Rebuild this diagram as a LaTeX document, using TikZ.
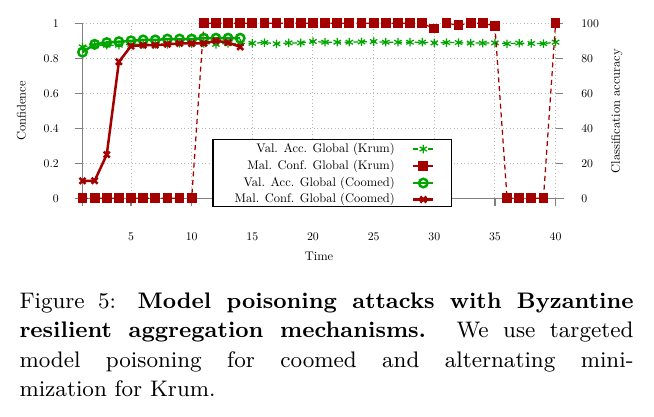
\documentclass[tikz,border=0pt]{standalone}
\usepackage{xcolor}
\usepackage{tikz}
\usetikzlibrary{plotmarks,positioning}

\definecolor{accgreen}{RGB}{0,165,0}
\definecolor{confred}{RGB}{165,0,0}

\begin{document}
\begin{tikzpicture}[x=0.4pt,y=-0.4pt,
  grid line/.style={gray!55,densely dotted,line width=0.4pt},
  axis line/.style={gray,line width=0.5pt},
  tick label/.style={font=\fontsize{10}{12}\selectfont,scale=0.47,inner sep=0pt},
  axis label/.style={font=\fontsize{10}{12}\selectfont,scale=0.5,inner sep=0pt},
  legend text/.style={font=\fontsize{10}{12}\selectfont,scale=0.5,inner sep=0pt,anchor=east,
    text height=1.5ex,text depth=.25ex},
  krum line/.style={line width=0.5pt,dash pattern=on 2pt off 1.5pt,mark options={solid},mark size=1.7pt},
  coomed line/.style={line width=1pt,mark size=1.7pt},
  legend dash/.style={dash pattern=on 2pt off 4pt},
  acc/.style={color=accgreen},
  conf/.style={color=confred}]

\useasboundingbox (0,0) rectangle (654,416);

% plot area: time 1..40, confidence 0..1 (accuracy 0..100 on the right)
\begin{scope}[shift={(70.37,198.3)},x=4.852pt,y=70pt]
  \foreach \v in {0.2,0.4,0.6,0.8,1}
    \draw[grid line] (1,\v) -- (40,\v);
  \foreach \t in {5,10,...,40}
    \draw[grid line] (\t,0) -- (\t,1);

  \draw[axis line] (1,1) -- ([yshift=-3pt]1,0);
  \draw[axis line] ([xshift=-3.2pt]1,0) -- ([xshift=3.2pt]40,0);
  \foreach \t in {5,10,...,40}{
    \draw[axis line] (\t,0) -- ([yshift=-3.2pt]\t,0);
    \node[tick label] (xt-\t) at ([yshift=-15.4pt]\t,0) {\t};
  }
  \foreach \v/\lab [count=\i] in {0/0,0.2/20,0.4/40,0.6/60,0.8/80,1/100}{
    \draw[axis line] ([xshift=-3.2pt]1,\v) -- (1,\v);
    \draw[axis line] (40,\v) -- ([xshift=3pt]40,\v);
    \node[tick label,anchor=east] (yl-\i) at ([xshift=-9.4pt]1,\v) {\v};
    \node[tick label,anchor=west] (yr-\i) at ([xshift=10.2pt]40,\v) {\lab};
  }
  \node[axis label] (time) at ([yshift=-23.4pt]20.5,0) {Time};

  % Krum
  \draw[krum line,acc] plot[mark=asterisk] coordinates {
    (1,.865) (2,.875) (3,.875) (4,.875) (5,.88) (6,.88) (7,.88) (8,.88) (9,.885) (10,.885)
    (11,.885) (12,.88) (13,.885) (14,.885) (15,.886) (16,.89) (17,.883) (18,.888) (19,.888) (20,.896)
    (21,.892) (22,.892) (23,.892) (24,.894) (25,.896) (26,.892) (27,.892) (28,.892) (29,.892) (30,.888)
    (31,.89) (32,.89) (33,.887) (34,.887) (35,.888) (36,.883) (37,.887) (38,.885) (39,.884) (40,.892)};
  \draw[krum line,conf] plot[mark=square*] coordinates {
    (1,0) (2,0) (3,0) (4,0) (5,0) (6,0) (7,0) (8,0) (9,0) (10,0)
    (11,1) (12,1) (13,1) (14,1) (15,1) (16,1) (17,1) (18,1) (19,1) (20,1)
    (21,1) (22,1) (23,1) (24,1) (25,1) (26,1) (27,1) (28,1) (29,1) (30,.97)
    (31,1) (32,.99) (33,1) (34,1) (35,.985) (36,0) (37,0) (38,0) (39,0) (40,1)};

  % Coomed
  \draw[coomed line,acc] plot[mark=o] coordinates {
    (1,.835) (2,.88) (3,.89) (4,.895) (5,.9) (6,.905) (7,.905) (8,.91) (9,.91) (10,.91)
    (11,.915) (12,.915) (13,.915) (14,.915)};
  \draw[coomed line,conf] plot[mark=x] coordinates {
    (1,.1) (2,.1) (3,.25) (4,.78) (5,.87) (6,.875) (7,.875) (8,.88) (9,.885) (10,.885)
    (11,.885) (12,.9) (13,.89) (14,.865)};
\end{scope}

\node[axis label,rotate=90] (conf-label) at (21.3,111) {Confidence};
\node[axis label,rotate=90] (acc-label) at (616.8,111) {Classification accuracy};

% legend
\node (legend) [draw,fill=white,line width=0.5pt,minimum width=95.4pt,minimum height=26.7pt,
  inner sep=0pt,anchor=north west] at (212.3,139) {};
\node[legend text] (leg-1) at (395,149) {Val. Acc. Global (Krum)};
\node[legend text] (leg-2) at (395,166) {Mal. Conf. Global (Krum)};
\node[legend text] (leg-3) at (395,183) {Val. Acc. Global (Coomed)};
\node[legend text] (leg-4) at (395,199.5) {Mal. Conf. Global (Coomed)};
\draw[krum line,legend dash,acc] plot[mark=asterisk,mark indices={2}] coordinates {(413.3,149) (423.3,149) (433.3,149)};
\draw[krum line,legend dash,conf] plot[mark=square*,mark indices={2}] coordinates {(413.3,166) (423.3,166) (433.3,166)};
\draw[coomed line,acc] plot[mark=o,mark indices={2}] coordinates {(413.3,183) (423.3,183) (433.3,183)};
\draw[coomed line,conf] plot[mark=x,mark indices={2}] coordinates {(413.3,199.5) (423.3,199.5) (433.3,199.5)};

% caption
\node (caption) [anchor=base west,text width=245.6pt,align=justify,inner sep=0pt,
  font=\fontsize{9}{11.8}\selectfont] at (19,308.3) {\tolerance=10000 Figure 5: \textbf{Model poisoning
  attacks with Byzantine\linebreak resilient aggregation mechanisms.} We use targeted\linebreak
  model poisoning for coomed and alternating mini-\linebreak mization for Krum.};
\end{tikzpicture}
\end{document}
